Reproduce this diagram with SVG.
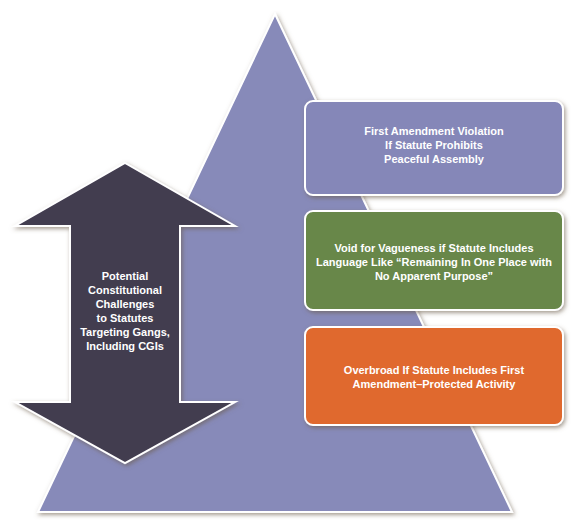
<svg xmlns="http://www.w3.org/2000/svg" width="575" height="530" viewBox="0 0 575 530">
  <defs>
    <filter id="sh" x="-20%" y="-20%" width="140%" height="140%">
      <feDropShadow dx="1.5" dy="2" stdDeviation="2" flood-color="#6b5a48" flood-opacity="0.6"/>
    </filter>
  </defs>
  <style>
    .shape { stroke: #ffffff; stroke-width: 2; filter: url(#sh); }
    .lbl { font-family: "Liberation Sans", Arial, sans-serif; font-weight: bold; font-size: 11px; fill: #ffffff; text-anchor: middle; }
  </style>
  <rect width="575" height="530" fill="#ffffff"/>
  <g id="pyramid">
    <polygon class="shape" points="275,14 512,512 38,512" fill="#878ab9"/>
  </g>
  <g id="arrow">
    <polygon class="shape" points="125,163 235,226 180,226 180,402 235,402 125,463 15,402 70,402 70,226 15,226" fill="#423c50"/>
    <text class="lbl" x="125" y="280">Potential</text>
    <text class="lbl" x="125" y="294">Constitutional</text>
    <text class="lbl" x="125" y="308">Challenges</text>
    <text class="lbl" x="125" y="322">to Statutes</text>
    <text class="lbl" x="125" y="336">Targeting Gangs,</text>
    <text class="lbl" x="125" y="350">Including CGIs</text>
  </g>
  <g id="box-first-amendment">
    <rect class="shape" x="305" y="101" width="258" height="94" rx="8" fill="#8587b8"/>
    <text class="lbl" x="434" y="135">First Amendment Violation</text>
    <text class="lbl" x="434" y="149">If Statute Prohibits</text>
    <text class="lbl" x="434" y="163">Peaceful Assembly</text>
  </g>
  <g id="box-vagueness">
    <rect class="shape" x="305" y="211" width="258" height="99" rx="8" fill="#68874a"/>
    <text class="lbl" x="434" y="252">Void for Vagueness if Statute Includes</text>
    <text class="lbl" x="434" y="266">Language Like “Remaining In One Place with</text>
    <text class="lbl" x="434" y="280">No Apparent Purpose”</text>
  </g>
  <g id="box-overbroad">
    <rect class="shape" x="305" y="327" width="258" height="98" rx="8" fill="#e0692d"/>
    <text class="lbl" x="434" y="374">Overbroad If Statute Includes First</text>
    <text class="lbl" x="434" y="388">Amendment–Protected Activity</text>
  </g>
</svg>
